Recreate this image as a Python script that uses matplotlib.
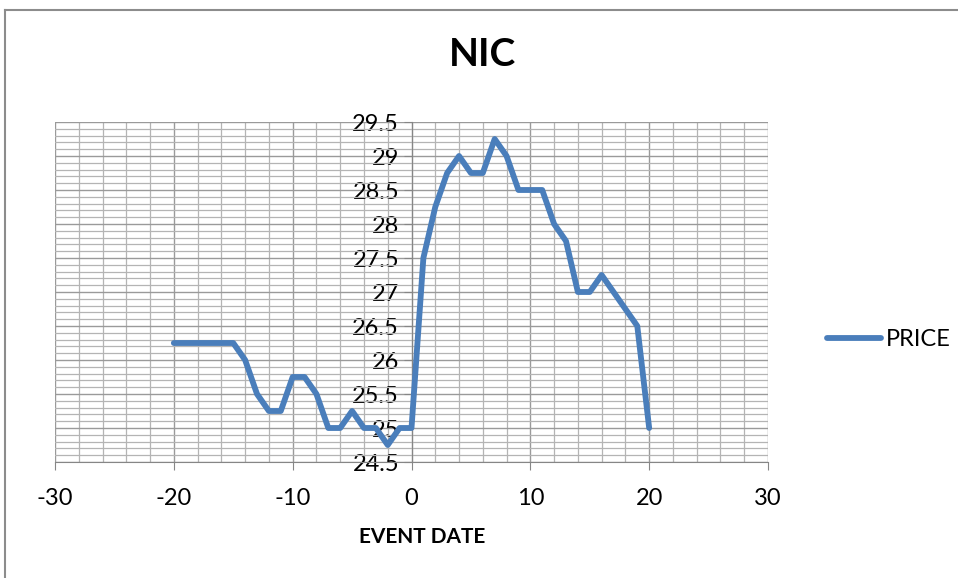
import matplotlib.pyplot as plt
from matplotlib.ticker import MultipleLocator
from matplotlib.lines import Line2D

event_date = list(range(-20, 21))
price = [26.25, 26.25, 26.25, 26.25, 26.25, 26.25, 26.0, 25.5, 25.25, 25.25,
         25.75, 25.75, 25.5, 25.0, 25.0, 25.25, 25.0, 25.0, 24.75, 25.0,
         25.0, 27.5, 28.25, 28.75, 29.0, 28.75, 28.75, 29.25, 29.0, 28.5,
         28.5, 28.5, 28.0, 27.75, 27.0, 27.0, 27.25, 27.0, 26.75, 26.5, 25.0]

plt.rcParams['font.family'] = ['Lato', 'DejaVu Sans']
plt.rcParams['axes.unicode_minus'] = False

W, H = 958, 578
fig = plt.figure(figsize=(W / 100, H / 100), dpi=100)

# chart area border (cropped on right and bottom)
fig.lines.append(Line2D([4.5 / W, 4.5 / W], [0.0, 1 - 9.5 / H],
                        transform=fig.transFigure, color='#8c8c8c', linewidth=1.5))
fig.lines.append(Line2D([4.5 / W, 1.0], [1 - 9.5 / H, 1 - 9.5 / H],
                        transform=fig.transFigure, color='#8c8c8c', linewidth=1.5))

ax = fig.add_axes([55 / W, 1 - 462 / H, (768 - 55) / W, (462 - 122) / H])
ax.plot(event_date, price, color='#4A7EBB', linewidth=4.2, solid_joinstyle='round',
        solid_capstyle='round', label='PRICE', zorder=3)

ax.set_xlim(-30, 30)
ax.set_ylim(24.5, 29.5)
ax.xaxis.set_major_locator(MultipleLocator(10))
ax.xaxis.set_minor_locator(MultipleLocator(2))
ax.yaxis.set_major_locator(MultipleLocator(0.5))
ax.yaxis.set_minor_locator(MultipleLocator(0.1))
ax.yaxis.set_major_formatter(lambda v, p: f'{v:g}')

ax.grid(which='major', color='#9a9a9a', linewidth=1.0)
ax.grid(which='minor', color='#b4b4b4', linewidth=0.9)
ax.set_axisbelow(True)

for s in ['top', 'right']:
    ax.spines[s].set_visible(False)
ax.spines['left'].set_position(('data', 0))
ax.spines['left'].set_color('#868686')
ax.spines['bottom'].set_color('#868686')
ax.spines['left'].set_zorder(2)

ax.tick_params(which='major', direction='out', length=6, color='#868686', labelsize=17)
ax.tick_params(which='minor', length=0)
ax.tick_params(axis='x', pad=13)
ax.tick_params(axis='y', pad=3)

fig.text(483 / W, 1 - 54 / H, 'NIC', ha='center', va='center', fontsize=28, fontweight='bold')
fig.text(422 / W, 1 - 537 / H, 'EVENT DATE', ha='center', va='center', fontsize=15, fontweight='bold')

ax.legend(loc='center left', bbox_to_anchor=(815 / W, 1 - 340 / H), bbox_transform=fig.transFigure,
          frameon=False, fontsize=17, handlelength=2.3, handletextpad=0.2, borderpad=0)

fig.savefig('out.png', dpi=100)
